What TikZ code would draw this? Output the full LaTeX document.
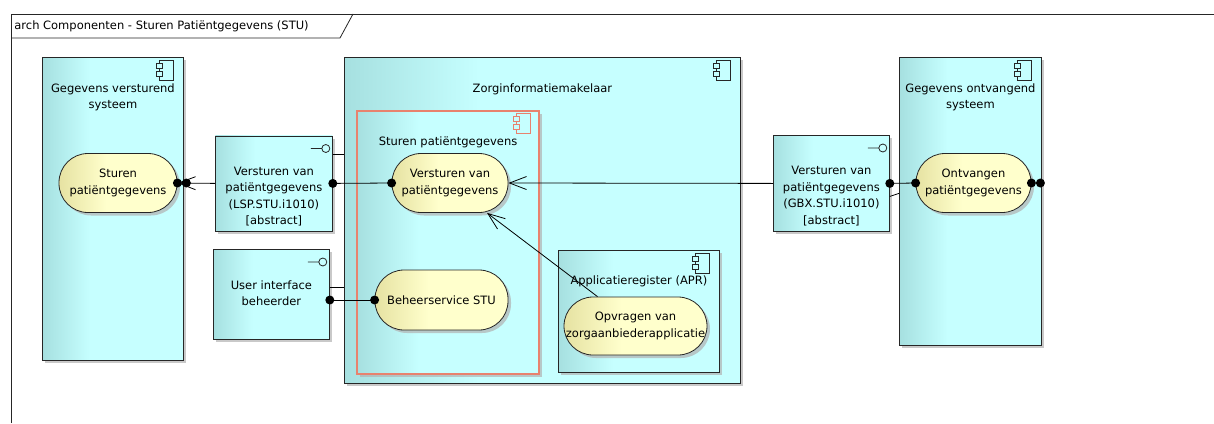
\documentclass[tikz,border=0pt]{standalone}
\usepackage{fontspec}
\setmainfont{DejaVu Sans}
\usetikzlibrary{arrows.meta,shadows}
\definecolor{compleft}{RGB}{166,224,224}
\definecolor{compright}{RGB}{198,255,255}
\definecolor{ucleft}{RGB}{230,226,162}
\definecolor{ucright}{RGB}{255,255,204}
\definecolor{salmon}{RGB}{232,130,110}
\pgfdeclarehorizontalshading{compshade}{100bp}{color(0bp)=(compleft); color(25bp)=(compleft); color(42bp)=(compright); color(100bp)=(compright)}
\pgfdeclarehorizontalshading{ucshade}{100bp}{color(0bp)=(ucleft); color(25bp)=(ucleft); color(45bp)=(ucright); color(100bp)=(ucright)}
\tikzset{
  txt/.style={font=\fontsize{11.5}{16.5}\selectfont, align=center, inner sep=0pt},
  shadowed/.style={drop shadow={shadow xshift=3pt, shadow yshift=-3pt, fill=black!30, opacity=.7}},
  comp/.style={draw=black!85, shading=compshade, anchor=north west, inner sep=0pt, shadowed},
  iface/.style={comp},
  usecase/.style={draw=black!85, shading=ucshade, rounded corners=29pt, txt, shadowed},
  arr/.style={-{Straight Barb[length=17pt,width=13pt]}},
}
\newcommand\compicon[2][black!85]{%
  \draw[#1] ([xshift=-24pt,yshift=-3pt]#2.north east) rectangle ([xshift=-10pt,yshift=-23pt]#2.north east);
  \draw[#1,fill=compright] ([xshift=-27pt,yshift=-6pt]#2.north east) rectangle ([xshift=-21pt,yshift=-11pt]#2.north east);
  \draw[#1,fill=compright] ([xshift=-27pt,yshift=-14pt]#2.north east) rectangle ([xshift=-21pt,yshift=-19pt]#2.north east);
}
\newcommand\ifaceicon[1]{%
  \draw[black!85] ([xshift=-7pt,yshift=-13pt]#1.north east) circle (4pt) ++(-4pt,0pt) -- ++(-11pt,0pt);
}
\begin{document}
\begin{tikzpicture}[x=1pt,y=-1pt,line width=0.8pt]
  \useasboundingbox (0,0) rectangle (1214,423);
  % frame
  \draw[black!85] (11,423) -- (11,14) -- (1214,14);
  \draw[black!85] (11,38) -- (340,38) -- (353,14);
  \node[txt, anchor=west] (title) at (14,26) {arch Componenten - Sturen Patiëntgegevens (STU)};

  % components
  \node[comp, minimum width=141pt, minimum height=303pt,
    label={[txt,anchor=north,yshift=-26pt]north:Gegevens versturend\\systeem}] (gvs) at (42,57) {};
  \node[comp, minimum width=396pt, minimum height=326pt,
    label={[txt,anchor=north,yshift=-26pt]north:Zorginformatiemakelaar}] (zim) at (344,57) {};
  \node[comp, draw=salmon, line width=2.2pt, minimum width=182pt, minimum height=263pt,
    label={[txt,anchor=north,yshift=-26pt]north:Sturen patiëntgegevens}] (stu) at (356,110) {};
  \node[comp, minimum width=161pt, minimum height=122pt,
    label={[txt,anchor=north,yshift=-25pt]north:Applicatieregister (APR)}] (apr) at (558,250) {};
  \node[comp, minimum width=142pt, minimum height=288pt,
    label={[txt,anchor=north,yshift=-26pt]north:Gegevens ontvangend\\systeem}] (gos) at (899,57) {};
  \compicon{gvs}
  \compicon{zim}
  \compicon[salmon]{stu}
  \compicon{apr}
  \compicon{gos}

  % interfaces
  \node[iface, minimum width=117pt, minimum height=95pt,
    label={[txt,anchor=north,yshift=-31pt]north:Versturen van\\patiëntgegevens\\(LSP.STU.i1010)\\{[abstract]}}] (lsp) at (215,135.5) {};
  \node[iface, minimum width=116pt, minimum height=90pt,
    label={[txt,anchor=north,yshift=-31pt]north:User interface\\beheerder}] (uib) at (213,249) {};
  \node[iface, minimum width=116pt, minimum height=96pt,
    label={[txt,anchor=north,yshift=-31pt]north:Versturen van\\patiëntgegevens\\(GBX.STU.i1010)\\{[abstract]}}] (gbx) at (773,135) {};
  \ifaceicon{lsp}
  \ifaceicon{uib}
  \ifaceicon{gbx}

  % use cases
  \node[usecase, minimum width=118pt, minimum height=59pt] (sturen) at (118,183) {Sturen\\patiëntgegevens};
  \node[usecase, minimum width=116pt, minimum height=59pt] (verst) at (450,183) {Versturen van\\patiëntgegevens};
  \node[usecase, minimum width=133pt, minimum height=60pt] (beheer) at (441.5,300) {Beheerservice STU};
  \node[usecase, minimum width=143pt, minimum height=58pt] (opvr) at (635.5,326) {Opvragen van\\zorgaanbiederapplicatie};
  \node[usecase, minimum width=115pt, minimum height=59pt] (ontv) at (973.5,183) {Ontvangen\\patiëntgegevens};

  % connectors
  \draw[arr] (lsp.west) -- (sturen.east);
  \draw (lsp.east) -- (verst.west);
  \coordinate (lspr) at ([yshift=29pt]lsp.east);
  \draw (lspr) -- (lspr -| zim.west);
  \draw (beheer.west -| uib.east) -- (beheer.west);
  \coordinate (uibr) at ([yshift=7pt]uib.east);
  \draw (uibr) -- (uibr -| zim.west);
  \draw[arr] (gbx.west) -- (verst.east);
  \draw[arr] ([xshift=-38pt]opvr.north) -- ([xshift=37pt]verst.south);
  \draw (gbx.east) -- (ontv.west);
  \coordinate (gbxr) at ([yshift=-13pt]gbx.east);
  \coordinate (gosl) at (gbx.east -| gos.west);
  \draw (gbxr) -- ([yshift=-10pt]gosl);

  % balls
  \fill (sturen.east) circle (4.5pt) ([xshift=9pt]sturen.east) circle (4.5pt);
  \fill (lsp.east) circle (4.5pt) (verst.west) circle (4.5pt);
  \fill (beheer.west -| uib.east) circle (4.5pt) (beheer.west) circle (4.5pt);
  \fill (gbx.east) circle (4.5pt) (ontv.west) circle (4.5pt);
  \fill (ontv.east) circle (4.5pt) ([xshift=9pt]ontv.east) circle (4.5pt);
\end{tikzpicture}
\end{document}
